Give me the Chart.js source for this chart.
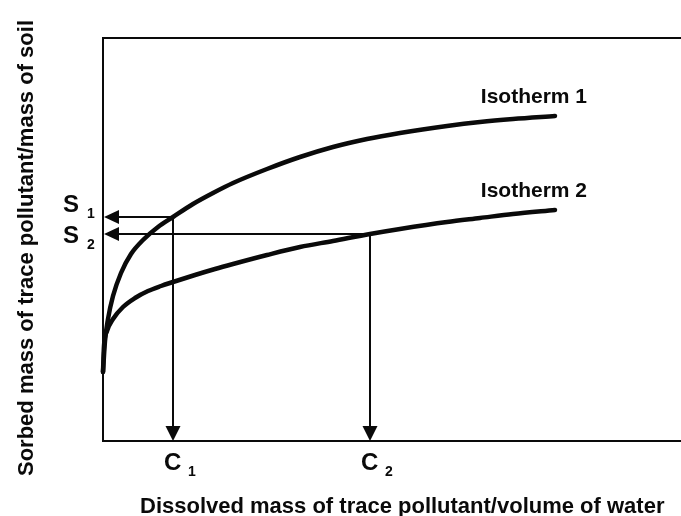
<!DOCTYPE html>
<html>
<head>
<meta charset="utf-8">
<script src="https://cdn.jsdelivr.net/npm/chart.js@4"></script>
<style>
  html, body { margin: 0; padding: 0; background: #fff; }
</style>
</head>
<body>
<canvas id="chart" width="681" height="516"></canvas>
<script>
// values (arbitrary units, x = dissolved, y = sorbed)
const seriesNames = ["Isotherm 1", "Isotherm 2"];
const iso1C = [0, 2, 5, 10, 18, 28, 40, 55, 70, 90, 110, 130, 164, 197, 230, 264, 297, 344, 377, 410, 452];
const iso1S = [69, 100, 122, 145, 168, 187, 201, 214, 224, 237, 248, 258, 272, 284, 294, 302, 308, 315, 319, 322, 325];
const iso2C = [0, 1, 4, 10, 20, 32, 45, 58, 70, 92, 112, 130, 164, 197, 230, 267, 297, 344, 377, 410, 452];
const iso2S = [69, 95, 110, 122, 134, 143, 150, 155, 159, 166, 172, 177, 186, 194, 200, 207, 212, 219, 223, 227, 231];

// guide points: C1/S1 on isotherm 1, C2/S2 on isotherm 2
const guideC = [70, 267];
const guideS = [224, 207];
const xTickMain = ["C", "C"];
const xTickSub = ["1", "2"];
const yTickMain = ["S", "S"];
const yTickSub = ["1", "2"];

const xTitle = "Dissolved mass of trace pollutant/volume of water";
const yTitle = "Sorbed mass of trace pollutant/mass of soil";

const ink = "#0a0a0a";
const fontFamily = "'Liberation Sans', Arial, Helvetica, sans-serif";

function toPoints(xs, ys) {
  return xs.map((v, i) => ({ x: v, y: ys[i] }));
}

const sketch = {
  id: "sketch",
  beforeDraw(chart) {
    const ctx = chart.ctx;
    ctx.save();
    ctx.fillStyle = "#fff";
    ctx.fillRect(0, 0, chart.width, chart.height);
    ctx.restore();
  },
  afterDatasetsDraw(chart) {
    const { ctx, chartArea: a, scales: { x, y } } = chart;
    ctx.save();
    ctx.strokeStyle = ink;
    ctx.fillStyle = ink;

    // frame (right side runs off the picture)
    ctx.lineWidth = 2;
    ctx.beginPath();
    ctx.moveTo(chart.width + 2, a.top);
    ctx.lineTo(a.left, a.top);
    ctx.lineTo(a.left, a.bottom);
    ctx.lineTo(chart.width + 2, a.bottom);
    ctx.stroke();

    // guide arrows
    guideC.forEach((c, i) => {
      const px = x.getPixelForValue(c);
      const py = y.getPixelForValue(guideS[i]);
      ctx.lineWidth = 2;
      ctx.beginPath();
      ctx.moveTo(px, py);
      ctx.lineTo(a.left + 12, py);
      ctx.moveTo(px, py);
      ctx.lineTo(px, a.bottom - 12);
      ctx.stroke();
      // left arrowhead
      ctx.beginPath();
      ctx.moveTo(a.left + 1, py);
      ctx.lineTo(a.left + 16, py - 7);
      ctx.lineTo(a.left + 16, py + 7);
      ctx.closePath();
      ctx.fill();
      // down arrowhead
      ctx.beginPath();
      ctx.moveTo(px, a.bottom);
      ctx.lineTo(px - 7.5, a.bottom - 15);
      ctx.lineTo(px + 7.5, a.bottom - 15);
      ctx.closePath();
      ctx.fill();

      // C labels
      ctx.textAlign = "left";
      ctx.textBaseline = "alphabetic";
      ctx.font = "bold 24px " + fontFamily;
      const cx = px - 9;
      ctx.fillText(xTickMain[i], cx, a.bottom + 29);
      ctx.font = "bold 14px " + fontFamily;
      ctx.fillText(xTickSub[i], cx + 24, a.bottom + 35);

      // S labels
      const sOff = i === 0 ? -5 : 9;
      ctx.font = "bold 24px " + fontFamily;
      ctx.fillText(yTickMain[i], 63, py + sOff);
      ctx.font = "bold 14px " + fontFamily;
      ctx.fillText(yTickSub[i], 87, py + sOff + 6);
    });

    // series labels near curve ends
    chart.data.datasets.forEach((ds, i) => {
      const pts = chart.getDatasetMeta(i).data;
      const last = pts[pts.length - 1];
      ctx.font = "bold 21px " + fontFamily;
      ctx.textAlign = "right";
      ctx.fillText(ds.label, last.x + 32, last.y - 13);
    });

    // axis titles
    ctx.font = "bold 22px " + fontFamily;
    ctx.textAlign = "left";
    ctx.fillText(xTitle, 140, 513);
    ctx.save();
    ctx.translate(33, 248);
    ctx.rotate(-Math.PI / 2);
    ctx.textAlign = "center";
    ctx.fillText(yTitle, 0, 0);
    ctx.restore();

    ctx.restore();
  }
};

new Chart(document.getElementById("chart"), {
  type: "line",
  data: {
    datasets: [
      { label: seriesNames[0], data: toPoints(iso1C, iso1S) },
      { label: seriesNames[1], data: toPoints(iso2C, iso2S) }
    ]
  },
  options: {
    responsive: false,
    animation: false,
    layout: { padding: { left: 103, top: 38, right: 0, bottom: 75 } },
    elements: {
      line: { borderColor: ink, borderWidth: 4.5, cubicInterpolationMode: "monotone", borderCapStyle: "round", fill: false },
      point: { radius: 0, hoverRadius: 0 }
    },
    datasets: { line: { clip: false } },
    scales: {
      x: { type: "linear", min: 0, max: 578, display: false },
      y: { type: "linear", min: 0, max: 403, display: false }
    },
    plugins: {
      legend: { display: false },
      tooltip: { enabled: false }
    }
  },
  plugins: [sketch]
});
</script>
</body>
</html>
